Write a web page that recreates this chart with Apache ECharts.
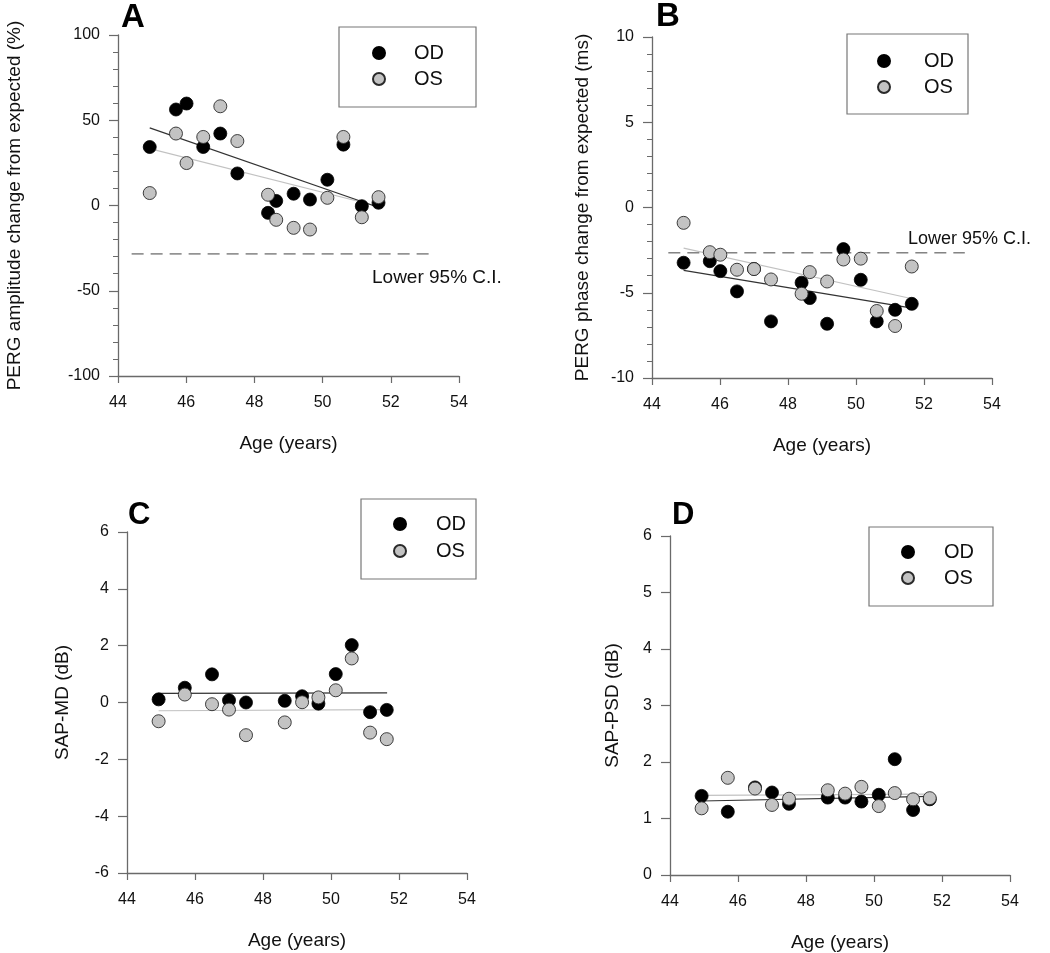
<!DOCTYPE html>
<html><head><meta charset="utf-8">
<script src="https://cdn.jsdelivr.net/npm/echarts@6/dist/echarts.min.js"></script>
<style>html,body{margin:0;padding:0;background:#fff}#c{width:1050px;height:953px}</style>
</head><body><div id="c"></div>
<script>
// ---- data ----
const ages = [44.93, 45.70, 46.01, 46.50, 47.00, 47.50, 48.40, 48.64, 49.15, 49.63, 50.14, 50.61, 51.15, 51.64];
// A: PERG amplitude change from expected (%)
const ampOD = [34.3, 56.3, 59.8, 34.3, 42.2, 18.8, -4.3, 2.7, 6.9, 3.5, 15.1, 35.7, -0.4, 1.6];
const ampOS = [7.3, 42.2, 24.9, 40.2, 58.2, 37.8, 6.3, -8.4, -13.1, -14.1, 4.5, 40.2, -6.9, 4.9];
// B: PERG phase change from expected (ms)
const phaseOD = [-3.24, -3.15, -3.73, -4.92, -3.6, -6.68, -4.41, -5.31, -6.82, -2.44, -4.24, -6.68, -6.0, -5.65];
const phaseOS = [-0.9, -2.62, -2.77, -3.65, -3.61, -4.22, -5.06, -3.79, -4.34, -3.05, -3.0, -6.07, -6.95, -3.46];
// C: SAP-MD (dB)
const mdOD = [0.11, 0.52, null, 0.99, 0.08, 0.0, null, 0.06, 0.22, -0.04, 1.0, 2.02, -0.34, -0.26];
const mdOS = [-0.66, 0.28, null, -0.06, -0.25, -1.15, null, -0.70, 0.01, 0.18, 0.43, 1.55, -1.06, -1.29];
// D: SAP-PSD (dB)
const psdOD = [1.40, 1.12, null, 1.55, 1.46, 1.26, null, 1.37, 1.37, 1.30, 1.42, 2.05, 1.15, 1.34];
const psdOS = [1.18, 1.72, null, 1.53, 1.24, 1.35, null, 1.50, 1.44, 1.56, 1.22, 1.45, 1.34, 1.36];
// regression line end values (at fitX)
const fitX = [44.93, 51.65];
const ampFitOD = [45.5, -1.2];
const ampFitOS = [33.4, -0.6];
const phaseFitOD = [-3.69, -5.9];
const phaseFitOS = [-2.38, -5.35];
const mdFitOD = [0.32, 0.34];
const mdFitOS = [-0.29, -0.25];
const psdFitOD = [1.31, 1.39];
const psdFitOS = [1.41, 1.43];
// lower 95% confidence limits
const ciAmpX = [44.4, 53.2];
const ciAmp = -28.4;
const ciPhaseX = [44.48, 53.2];
const ciPhase = -2.66;
// axis settings
const xTicks = {min: 44, max: 54, interval: 2};
const yA = {min: -100, max: 100, interval: 50};
const yB = {min: -10, max: 10, interval: 5};
const yC = {min: -6, max: 6, interval: 2};
const yD = {min: 0, max: 6, interval: 1};
const seriesNames = ['OD', 'OS'];

// ---- chart ----
const FONT = "'Liberation Sans', Arial, Helvetica, sans-serif";
const AX = '#6a6a6a';
const chart = echarts.init(document.getElementById('c'));

function pairs(xs, ys) {
  const out = [];
  xs.forEach((x, i) => { if (ys[i] !== null && ys[i] !== undefined) out.push([x, ys[i]]); });
  return out;
}

function xAxisCfg(gi) {
  return {
    type: 'value', gridIndex: gi, min: xTicks.min, max: xTicks.max, interval: xTicks.interval,
    name: 'Age (years)', nameLocation: 'middle', nameGap: 58,
    nameTextStyle: {fontSize: 19, color: '#111', fontFamily: FONT},
    axisLine: {onZero: false, lineStyle: {color: AX, width: 1.3}},
    axisTick: {show: true, length: 7, lineStyle: {color: AX, width: 1.2}},
    axisLabel: {fontSize: 16, color: '#111', margin: 19, fontFamily: FONT},
    splitLine: {show: false}
  };
}
function yAxisCfg(gi, r, name, gap, minor) {
  return {
    type: 'value', gridIndex: gi, min: r.min, max: r.max, interval: r.interval,
    name: name, nameLocation: 'middle', nameGap: gap,
    nameTextStyle: {fontSize: 19, color: '#111', fontFamily: FONT},
    axisLine: {show: true, onZero: false, lineStyle: {color: AX, width: 1.3}},
    axisTick: {show: true, length: 9, lineStyle: {color: AX, width: 1.2}},
    minorTick: {show: !!minor, splitNumber: minor || 5, length: 5, lineStyle: {color: AX, width: 1}},
    axisLabel: {fontSize: 16, color: '#111', margin: 18, fontFamily: FONT},
    splitLine: {show: false}, minorSplitLine: {show: false}
  };
}

const series = [];
function addPanel(gi, od, os, fitOD, fitOS) {
  series.push({type: 'line', xAxisIndex: gi, yAxisIndex: gi, data: pairs(fitX, fitOS), symbol: 'none',
    lineStyle: {color: '#c2c2c2', width: 1.2}, silent: true, z: 1});
  series.push({type: 'line', xAxisIndex: gi, yAxisIndex: gi, data: pairs(fitX, fitOD), symbol: 'none',
    lineStyle: {color: '#333', width: 1.2}, silent: true, z: 1});
  series.push({name: seriesNames[0], type: 'scatter', xAxisIndex: gi, yAxisIndex: gi, data: pairs(ages, od),
    symbolSize: 13, itemStyle: {color: '#000', borderColor: '#000', borderWidth: 0.8, opacity: 1}, z: 3});
  series.push({name: seriesNames[1], type: 'scatter', xAxisIndex: gi, yAxisIndex: gi, data: pairs(ages, os),
    symbolSize: 13, itemStyle: {color: '#c3c3c3', borderColor: '#2a2a2a', borderWidth: 0.9, opacity: 1}, z: 4});
}
addPanel(0, ampOD, ampOS, ampFitOD, ampFitOS);
addPanel(1, phaseOD, phaseOS, phaseFitOD, phaseFitOS);
addPanel(2, mdOD, mdOS, mdFitOD, mdFitOS);
addPanel(3, psdOD, psdOS, psdFitOD, psdFitOS);
series.push({type: 'line', xAxisIndex: 0, yAxisIndex: 0, data: ciAmpX.map(x => [x, ciAmp]), symbol: 'none',
  lineStyle: {color: '#444', width: 1, type: [12, 7]}, silent: true, z: 2});
series.push({type: 'line', xAxisIndex: 1, yAxisIndex: 1, data: ciPhaseX.map(x => [x, ciPhase]), symbol: 'none',
  lineStyle: {color: '#444', width: 1, type: [12, 7]}, silent: true, z: 2});

function legendCfg(left, top, pad, textPad, gap) {
  return {
    data: seriesNames, orient: 'vertical', left: left, top: top, padding: pad, itemGap: gap,
    itemWidth: 12, itemHeight: 12, icon: 'circle', selectedMode: false,
    borderColor: '#777', borderWidth: 1.2, backgroundColor: '#fff',
    textStyle: {fontSize: 20, color: '#111', fontFamily: FONT, lineHeight: 20, padding: [0, 0, 0, textPad]}
  };
}

const LETTER = "bold 33px 'Liberation Sans', Arial, sans-serif";
const option = {
  backgroundColor: '#fff',
  animation: false,
  grid: [
    {left: 118, top: 35, width: 341, height: 341},
    {left: 652, top: 37, width: 340, height: 341},
    {left: 127, top: 532, width: 340, height: 341},
    {left: 670, top: 536, width: 340, height: 340}
  ],
  xAxis: [xAxisCfg(0), xAxisCfg(1), xAxisCfg(2), xAxisCfg(3)],
  yAxis: [
    yAxisCfg(0, yA, 'PERG amplitude change from expected (%)', 94, 5),
    yAxisCfg(1, yB, 'PERG phase change from expected (ms)', 60, 5),
    yAxisCfg(2, yC, 'SAP-MD (dB)', 55, 0),
    yAxisCfg(3, yD, 'SAP-PSD (dB)', 48, 0)
  ],
  legend: [
    legendCfg(339, 27, [16, 32, 18, 33], 24, 6),
    legendCfg(847, 34, [17, 14, 17, 30], 29, 6),
    legendCfg(361, 499, [15, 10, 18, 32], 25, 7),
    legendCfg(869, 527, [15, 19, 18, 32], 25, 6)
  ],
  graphic: [
    {type: 'text', style: {x: 121, y: 34, text: 'A', font: LETTER, fill: '#000', textVerticalAlign: 'bottom'}},
    {type: 'text', style: {x: 656, y: 33, text: 'B', font: LETTER, fill: '#000', textVerticalAlign: 'bottom'}},
    {type: 'text', style: {x: 128, y: 531, text: 'C', font: "bold 31px 'Liberation Sans', Arial, sans-serif", fill: '#000', textVerticalAlign: 'bottom'}},
    {type: 'text', style: {x: 672, y: 531, text: 'D', font: "bold 31px 'Liberation Sans', Arial, sans-serif", fill: '#000', textVerticalAlign: 'bottom'}},
    {type: 'text', style: {x: 372, y: 287, text: 'Lower 95% C.I.', font: "19px 'Liberation Sans', Arial, sans-serif", fill: '#111', textVerticalAlign: 'bottom'}},
    {type: 'text', style: {x: 908, y: 248, text: 'Lower 95% C.I.', font: "18px 'Liberation Sans', Arial, sans-serif", fill: '#111', textVerticalAlign: 'bottom'}}
  ],
  series: series
};
chart.setOption(option);
</script></body></html>
